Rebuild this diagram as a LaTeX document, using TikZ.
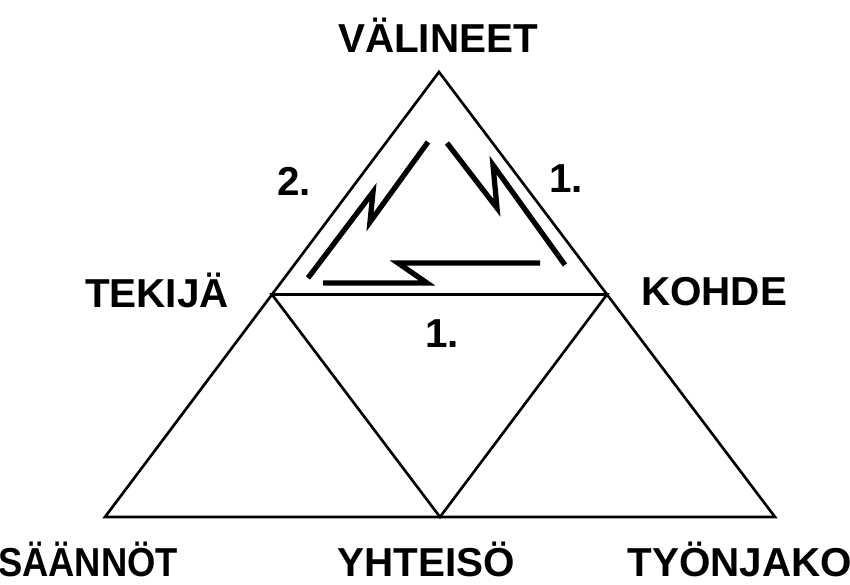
\documentclass[tikz,border=0pt]{standalone}
\usepackage{fontspec}
\setmainfont{Liberation Sans}
\usetikzlibrary{calc}

\tikzset{
  nimi/.style={font=\bfseries\fontsize{23}{27}\selectfont, inner sep=0pt, anchor=base},
  reuna/.style={line width=1.5pt, line join=miter},
  salama/.style={line width=3pt, line join=miter},
}

\begin{document}
\begin{tikzpicture}[x=0.02cm, y=-0.02cm]
\useasboundingbox (0,0) rectangle (850,585);

% Iso kolmio
\coordinate (V) at (439,72);
\coordinate (S) at (105,517);
\coordinate (T) at (775,517);
\coordinate (L) at ($(V)!0.5!(S)$);
\coordinate (K) at ($(V)!0.5!(T)$);
\coordinate (Y) at ($(S)!0.5!(T)$);
\draw[reuna] (V) -- (S) -- (T) -- cycle;
\draw[reuna] (L) -- (K) -- (Y) -- cycle;

% Salamat
\draw[salama] (308,278) -- (373,192) -- (370,222) -- (428,142);
\draw[salama] (447,143) -- (497,208) -- (493,165) -- (565,265);
\draw[salama] (323,283) -- (427,283) -- (398,263) -- (540,263);

% Nimet
\node[nimi] (valineet) at (438,52) {VÄLINEET};
\node[nimi] (tekija) at (157,307) {TEKIJÄ};
\node[nimi] (kohde) at (714,305) {KOHDE};
\node[nimi] (saannot) at (88,576) {\scalebox{0.9}[1]{SÄÄNNÖT}};
\node[nimi] (yhteiso) at (426,576) {YHTEISÖ};
\node[nimi] (tyonjako) at (740,576) {TYÖNJAKO};
\node[nimi] (kaksi) at (294,195) {2.};
\node[nimi] (yksi) at (566,192) {1.};
\node[nimi] (yksib) at (442,347) {1.};
\end{tikzpicture}
\end{document}
